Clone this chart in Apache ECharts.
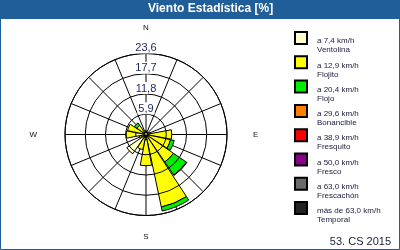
<!DOCTYPE html>
<html><head><meta charset="utf-8">
<script src="https://cdn.jsdelivr.net/npm/echarts@6/dist/echarts.min.js"></script>
<style>html,body{margin:0;padding:0;background:#fff}#c{width:400px;height:250px}</style>
</head><body><div id="c"></div>
<script>
const directions = ['N','NNE','NE','ENE','E','ESE','SE','SSE','S','SSW','SW','WSW','W','WNW','NW','NNW'];
const cardinals = ['N','E','S','W'];
const radiusMax = 23.6;
const radiusStep = 5.9;
const classNames = ['Ventolina','Flojito','Flojo','Bonancible','Fresquito','Fresco','Frescachón','Temporal'];
const classRanges = ['a 7,4 km/h','a 12,9 km/h','a 20,4 km/h','a 29,6 km/h','a 38,9 km/h','a 50,0 km/h','a 63,0 km/h','más de 63,0 km/h'];
const ventolina  = [0.4,0.3,0.3,0.4,0.8,0.8,0.8,0.8,1.5,1.0,6.8,1.5,3.0,1.0,0.5,0.4];
const flojito    = [0.6,0.4,0.4,0.8,6.7,6.5,8.9,20.8,7.6,3.5,0,0.5,2.8,4.5,2.7,0.8];
const flojo      = [0,0,0,0,0,1.1,4.6,1.2,0,0,0,0,0,0,0.9,0];
const bonancible = [0,0,0,0,0,0,0.15,0,0,0,0,0,0,0,0,0];
const fresquito  = [0,0,0,0,0,0,0,0,0,0,0,0,0,0,0,0];
const fresco     = [0,0,0,0,0,0,0,0,0,0,0,0,0,0,0,0];
const frescachon = [0,0,0,0,0,0,0,0,0,0,0,0,0,0,0,0];
const temporal   = [0,0,0,0,0,0,0,0,0,0,0,0,0,0,0,0];
const footerText = '53. CS 2015';

const classValues = [ventolina, flojito, flojo, bonancible, fresquito, fresco, frescachon, temporal];
const palette = ['#ffffc8','#ffff00','#00ee00','#ff8000','#ff0000','#880088','#6a6a6a','#222222'];
const blue = '#1f5e98';
const cardinalPad = {N:[0,0,5,0], E:[0,0,0,9], S:[0,0,0,0], W:[0,11,0,0]};
const C = [146, 134.5], R = 81;

const chart = echarts.init(document.getElementById('c'), null, {renderer:'canvas'});
chart.setOption({
  animation:false,
  backgroundColor:'#fff',
  title:[
    {text:'Viento Estadística [%]', left:148, top:3, padding:0,
     textStyle:{color:'#fff', fontSize:12, fontWeight:'bold', fontFamily:'Liberation Sans'}},
    {text:footerText, right:9, bottom:3, padding:0,
     textStyle:{color:'#1a1a3a', fontSize:11, fontWeight:'normal', fontFamily:'Liberation Sans'}}
  ],
  graphic:[
    {type:'rect', z:-10, shape:{x:0,y:0,width:400,height:19}, style:{fill:blue}},
    {type:'rect', z:-10, shape:{x:0.5,y:0.5,width:399,height:249}, style:{fill:null, stroke:blue, lineWidth:1}}
  ],
  legend:{
    orient:'vertical', left:294, top:31, padding:0, itemGap:1.3,
    itemWidth:12, itemHeight:12, icon:'rect',
    selectedMode:false,
    data: classNames,
    formatter: n => { const i = classNames.indexOf(n); return '{a|' + classRanges[i] + '}\n{b|' + n + '}'; },
    textStyle:{padding:[15,0,0,5], fontFamily:'Liberation Sans', fontSize:8, color:'#1a1a3a',
      rich:{a:{fontSize:8, lineHeight:9, fontFamily:'Liberation Sans', color:'#1a1a3a'},
            b:{fontSize:8, lineHeight:9, fontFamily:'Liberation Sans', color:'#1a1a3a'}}}
  },
  polar:[{center:C, radius:R},{center:C, radius:R}],
  angleAxis:[
    {polarIndex:0, type:'category', startAngle:101.25, boundaryGap:true,
     data: directions.map(d => ({value:d, textStyle:{padding: cardinalPad[d] || [0,0,0,0]}})),
     axisLine:{show:false}, axisTick:{show:false}, splitLine:{show:false},
     axisLabel:{interval:0, margin:17, color:'#111', fontSize:8, fontFamily:'Liberation Sans',
       formatter: v => cardinals.includes(v) ? v : ''}, z:3},
    {polarIndex:1, type:'category', startAngle:90, data:directions,
     axisLine:{show:true, lineStyle:{color:'#000', width:1}}, axisTick:{show:false}, axisLabel:{show:false},
     splitLine:{show:true, lineStyle:{color:'#000', width:1}}, z:0}
  ],
  radiusAxis:[
    {polarIndex:0, min:0, max:radiusMax, interval:radiusStep,
     axisLine:{show:false}, axisTick:{show:false}, axisLabel:{show:false}, splitLine:{show:false}},
    {polarIndex:1, min:0, max:radiusMax, interval:radiusStep, z:4,
     axisLine:{show:false}, axisTick:{show:false},
     splitLine:{show:true, lineStyle:{color:'#000', width:1}},
     axisLabel:{margin:0, align:'center', verticalAlign:'bottom', color:'#1c2458', fontSize:11,
       fontFamily:'Liberation Sans', backgroundColor:'#fff', padding:[1,1,0,1],
       formatter: v => v < 0.01 ? '' : (Math.round(v*10)/10).toFixed(1).replace('.', ',')}}
  ],
  series: classNames.map((n,i) => ({
    type:'bar', coordinateSystem:'polar', polarIndex:0, name:n, stack:'wind',
    barCategoryGap:'6%', silent:true, z:2,
    itemStyle:{color:palette[i], borderColor:'#000', borderWidth:1},
    data: classValues[i].map(v => v > 0 ? v : '-')
  }))
});
</script></body></html>
